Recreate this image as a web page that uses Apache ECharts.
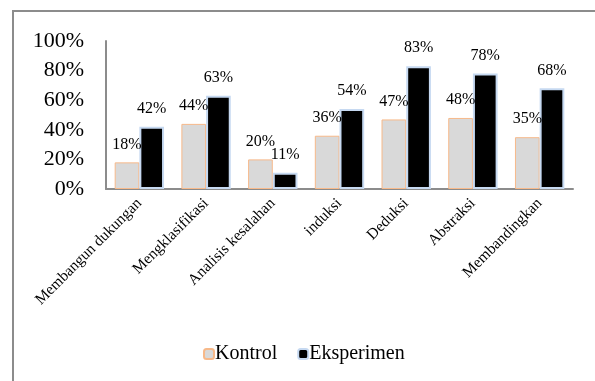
<!DOCTYPE html>
<html>
<head>
<meta charset="utf-8">
<script src="https://cdn.jsdelivr.net/npm/echarts@6/dist/echarts.min.js"></script>
<style>
    html, body { margin: 0; padding: 0; background: #fff; }
    #frame { position: absolute; left: 12px; top: 10px; width: 590px; height: 380px;
             border-left: 2px solid #8c8c8c; border-top: 2px solid #8c8c8c; }
    #chart { position: absolute; left: 0; top: 0; width: 595px; height: 381px; }
</style>
</head>
<body>
<div id="frame"></div>
<div id="chart"></div>
<script>
    const categories = ["Membangun dukungan", "Mengklasifikasi", "Analisis kesalahan", "induksi", "Deduksi", "Abstraksi", "Membandingkan"];
    const kontrol = [18, 44, 20, 36, 47, 48, 35];
    const eksperimen = [42, 63, 11, 54, 83, 78, 68];
    const yTicks = [0, 20, 40, 60, 80, 100];

    const font = "'Liberation Serif', 'DejaVu Serif', serif";

    let chart = echarts.init(document.getElementById("chart"));
    let option = {
        animation: false,
        textStyle: { fontFamily: font, color: "#000" },
        grid: { left: 106, right: 22, top: 41, bottom: 192 },
        legend: {
            bottom: 12,
            left: 198,
            itemWidth: 10,
            itemHeight: 10,
            itemGap: 20,
            textStyle: { fontFamily: font, fontSize: 20, color: "#000", padding: [0, 0, 0, -4] },
            data: ["Kontrol", "Eksperimen"]
        },
        xAxis: {
            type: "category",
            data: categories,
            axisLine: { lineStyle: { color: "#8c8c8c", width: 2 } },
            axisTick: { show: false },
            axisLabel: {
                interval: 0,
                rotate: 45,
                margin: 12,
                fontFamily: font,
                fontSize: 15.5,
                color: "#000"
            }
        },
        yAxis: {
            type: "value",
            min: 0,
            max: 100,
            interval: 20,
            axisLine: { show: true, lineStyle: { color: "#8c8c8c", width: 2 } },
            axisTick: { show: false },
            splitLine: { show: false },
            axisLabel: {
                margin: 22,
                fontFamily: font,
                fontSize: 22,
                color: "#000",
                formatter: v => yTicks.includes(v) ? v + "%" : ""
            }
        },
        series: [
            {
                name: "Kontrol",
                type: "bar",
                data: kontrol,
                barWidth: "37%",
                barGap: "0%",
                itemStyle: { color: "#d9d9d9", borderColor: "#f7b98a", borderWidth: 1 },
                label: {
                    show: true,
                    position: "top",
                    distance: 10,
                    fontFamily: font,
                    fontSize: 16,
                    color: "#000",
                    formatter: p => p.value + "%"
                }
            },
            {
                name: "Eksperimen",
                type: "bar",
                data: eksperimen,
                barWidth: "37%",
                itemStyle: { color: "#000", borderColor: "#c6d9f1", borderWidth: 2 },
                label: {
                    show: true,
                    position: "top",
                    distance: 10,
                    fontFamily: font,
                    fontSize: 16,
                    color: "#000",
                    formatter: p => p.value + "%"
                }
            }
        ]
    };
    chart.setOption(option);
</script>
</body>
</html>
